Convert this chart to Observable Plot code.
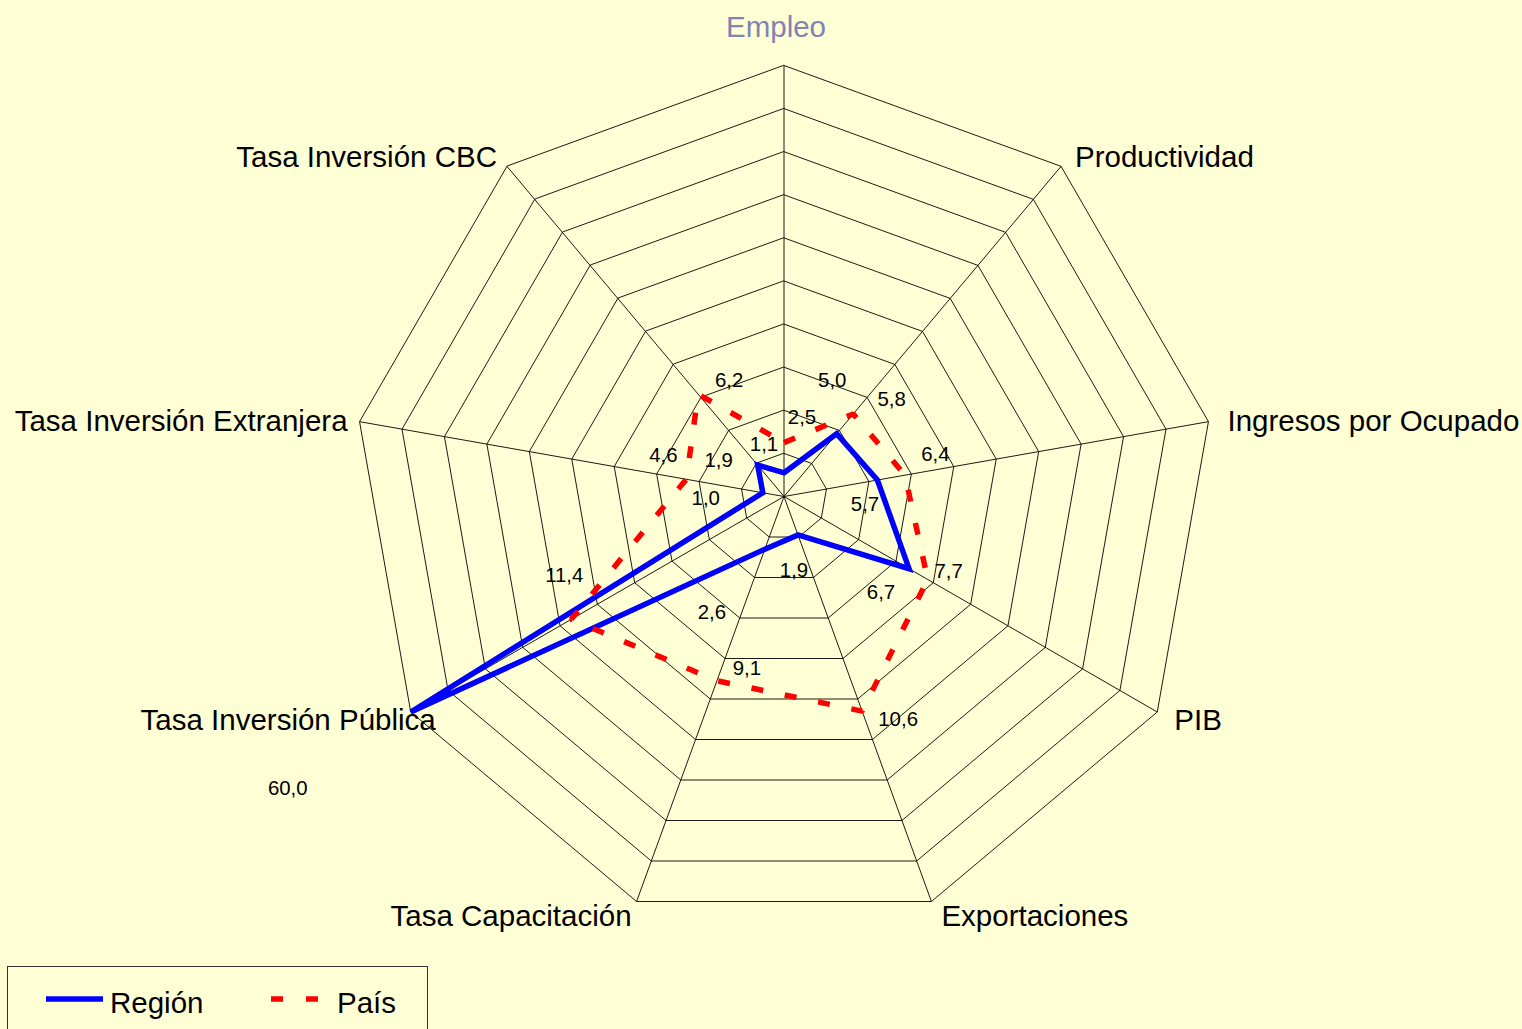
<!DOCTYPE html>
<html>
<head>
<meta charset="utf-8">
<script src="https://cdn.jsdelivr.net/npm/d3@7"></script>
<script src="https://cdn.jsdelivr.net/npm/@observablehq/plot@0.6"></script>
<style>
  html, body { margin: 0; padding: 0; background: #FFFFD5; overflow: hidden; }
  body { width: 1522px; height: 1029px; position: relative; font-family: "Liberation Sans", Arial, sans-serif; }
  #chart svg { display: block; background: transparent; }
  #legend { position: absolute; left: 7px; top: 966px; width: 421px; height: 80px; border: 1px solid #333; box-sizing: border-box; }
</style>
</head>
<body>
<div id="chart"></div>
<div id="legend"></div>
<script>
// ---- Data ----
const categories = ["Empleo", "Productividad", "Ingresos por Ocupado", "PIB", "Exportaciones",
  "Tasa Capacitación", "Tasa Inversión Pública", "Tasa Inversión Extranjera", "Tasa Inversión CBC"];
const region = [1.1, 3.8, 4.4, 6.7, 1.9, 2.6, 60.0, 1.0, 1.9];
const pais = [2.5, 5.0, 5.7, 7.7, 10.6, 9.1, 11.4, 4.6, 6.2];
const regionLabels = ["1,1", "5,8", "6,4", "6,7", "1,9", "2,6", "60,0", "1,0", "1,9"];
const paisLabels = ["2,5", "5,0", "5,7", "7,7", "10,6", "9,1", "11,4", "4,6", "6,2"];
const ringTicks = [2, 4, 6, 8, 10, 12, 14, 16, 18, 20];
const axisMax = 20;

// ---- Layout / style (not data) ----
const W = 1522, H = 966, cx = 783.5, cy = 496, k = 21.55; // px per unit
const regionLabelOffsets = [[-20,-28],[55,-34],[58,-26],[-28,24],[-4,35],[-53,63],[-123,76],[-57,6],[-39,-5]];
const paisLabelOffsets = [[18,-25],[-21,-33],[-40,29],[21,-8],[36,8],[30,-12],[-7,-44],[-23,-24],[31,-14]];
const catLabelStyle = [
  {anchor: "middle", dx: -8, dy: -38, fill: "#8282B4"},
  {anchor: "start", dx: 14, dy: -9},
  {anchor: "start", dx: 19, dy: 0},
  {anchor: "start", dx: 17, dy: 9},
  {anchor: "start", dx: 10, dy: 15},
  {anchor: "end", dx: -5, dy: 15},
  {anchor: "end", dx: 25, dy: 9},
  {anchor: "end", dx: -12, dy: 0},
  {anchor: "end", dx: -10, dy: -9}
];

const n = categories.length;
const angle = i => (2 * Math.PI * i) / n;
const px = (r, i) => Math.min(r, axisMax) * Math.sin(angle(i));
const py = (r, i) => Math.min(r, axisMax) * Math.cos(angle(i));

const rings = ringTicks.flatMap(t => categories.map((c, i) => ({ring: t, x: px(t, i), y: py(t, i)})));
const spokes = categories.map((c, i) => ({x1: 0, y1: 0, x2: px(axisMax, i), y2: py(axisMax, i)}));
const regionPts = region.map((v, i) => ({x: px(v, i), y: py(v, i)}));
const paisPts = pais.map((v, i) => ({x: px(v, i), y: py(v, i)}));

const font = "Liberation Sans, Arial, sans-serif";

const valueLabelMarks = [
  ...region.map((v, i) => Plot.text([{x: px(v, i), y: py(v, i), t: regionLabels[i]}],
    {x: "x", y: "y", text: "t", dx: regionLabelOffsets[i][0], dy: regionLabelOffsets[i][1], fontSize: 20.4, fill: "#000", fontFamily: font})),
  ...pais.map((v, i) => Plot.text([{x: px(v, i), y: py(v, i), t: paisLabels[i]}],
    {x: "x", y: "y", text: "t", dx: paisLabelOffsets[i][0], dy: paisLabelOffsets[i][1], fontSize: 20.4, fill: "#000", fontFamily: font}))
];

const catLabelMarks = categories.map((c, i) => Plot.text([{x: px(axisMax, i), y: py(axisMax, i), t: c}], {
  x: "x", y: "y", text: "t", textAnchor: catLabelStyle[i].anchor,
  dx: catLabelStyle[i].dx, dy: catLabelStyle[i].dy, fontSize: 29.5,
  fill: catLabelStyle[i].fill || "#000", fontFamily: font
}));

const chart = Plot.plot({
  width: W,
  height: H,
  margin: 0,
  x: {domain: [-cx / k, (W - cx) / k], axis: null},
  y: {domain: [-(H - cy) / k, cy / k], axis: null},
  style: {background: "transparent", fontFamily: font},
  marks: [
    Plot.line(rings, {x: "x", y: "y", z: "ring", curve: "linear-closed", stroke: "#000", strokeWidth: 0.9}),
    Plot.link(spokes, {x1: "x1", y1: "y1", x2: "x2", y2: "y2", stroke: "#000", strokeWidth: 0.9}),
    Plot.line(regionPts, {x: "x", y: "y", curve: "linear-closed", stroke: "#0000FF", strokeWidth: 5.5, strokeLinejoin: "miter", strokeMiterlimit: 4}),
    Plot.line(paisPts, {x: "x", y: "y", curve: "linear-closed", stroke: "#FF0000", strokeWidth: 5.5, strokeDasharray: "12,22", strokeLinecap: "butt", strokeLinejoin: "miter"}),
    ...valueLabelMarks,
    ...catLabelMarks
  ]
});
document.getElementById("chart").append(chart);

// Legend (HTML/SVG below the chart)
const legend = d3.select("#legend").append("svg").attr("width", 419).attr("height", 70);
legend.append("line").attr("x1", 38).attr("x2", 95).attr("y1", 32).attr("y2", 32)
  .attr("stroke", "#0000FF").attr("stroke-width", 5.5);
legend.append("text").attr("x", 102).attr("y", 46).attr("font-size", 29.5).attr("font-family", font).text("Región");
legend.append("line").attr("x1", 263).attr("x2", 311).attr("y1", 32).attr("y2", 32)
  .attr("stroke", "#FF0000").attr("stroke-width", 5.5).attr("stroke-dasharray", "12,23");
legend.append("text").attr("x", 329).attr("y", 46).attr("font-size", 29.5).attr("font-family", font).text("País");
</script>
</body>
</html>
